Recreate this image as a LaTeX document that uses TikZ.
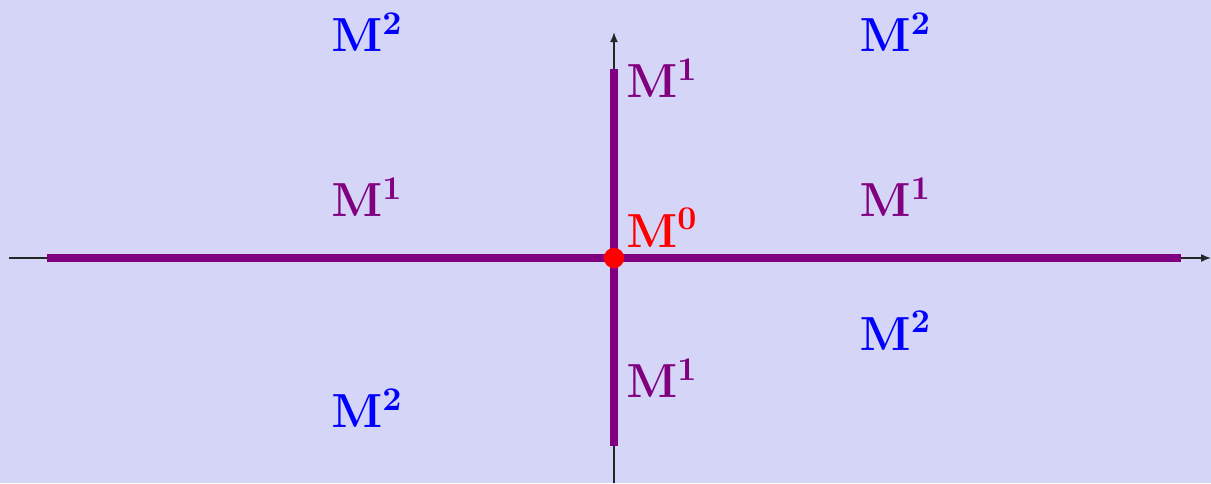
\documentclass[tikz,border=0pt]{standalone}
\usepackage{amsmath, amssymb}
\usepackage{xcolor}
\usetikzlibrary{arrows.meta, calc, positioning}

\definecolor{bgfill}{RGB}{213,213,248}
\definecolor{stratum}{RGB}{128,0,128}

\begin{document}
\begin{tikzpicture}[
    every node/.style={font=\Large, inner sep=0pt},
    axis/.style={-{Latex[length=3pt,width=2.4pt]}, line width=0.45pt, black!85},
    stratumline/.style={line width=2.4pt, stratum},
    top/.style={text=blue},
    mid/.style={text=stratum},
    pt/.style={text=red},
]
% Background (fixes the picture size)
\fill[bgfill] (-6.497,-2.381) rectangle (6.317,2.730);
\useasboundingbox (-6.497,-2.381) rectangle (6.317,2.730);

% Axis end points
\coordinate (O) at (0,0);
\coordinate (xmin) at (-6.40,0);
\coordinate (xmax) at (6.317,0);
\coordinate (ymin) at (0,-2.381);
\coordinate (ymax) at (0,2.39);

% Ends of the 1-dimensional strata
\coordinate (left) at (-6.0,0);
\coordinate (right) at (6.0,0);
\coordinate (up) at (0,2.0);
\coordinate (down) at (0,-1.99);

% Axes
\draw[axis] (xmin) -- (xmax);
\draw[axis] (ymin) -- (ymax);

% Strata
\draw[stratumline] (left) -- (right);
\draw[stratumline] (down) -- (up);
\fill[red] (O) circle[radius=0.108];

% Labels
\node[top] (m2a) at (-2.61,2.39) {$\mathbf{M^2}$};
\node[top] (m2b) at (2.98,2.39) {$\mathbf{M^2}$};
\node[top] (m2c) at (2.98,-0.77) {$\mathbf{M^2}$};
\node[top] (m2d) at (-2.61,-1.59) {$\mathbf{M^2}$};
\node[mid] (m1a) at (-2.61,0.645) {$\mathbf{M^1}$};
\node[mid] (m1b) at (2.98,0.645) {$\mathbf{M^1}$};
\node[mid] (m1c) at (0.51,1.90) {$\mathbf{M^1}$};
\node[mid] (m1d) at (0.51,-1.27) {$\mathbf{M^1}$};
\node[pt] (m0) at (0.51,0.32) {$\mathbf{M^0}$};
\end{tikzpicture}
\end{document}
